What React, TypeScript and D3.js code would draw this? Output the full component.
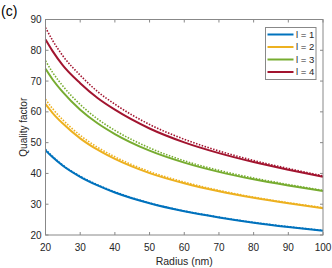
import * as d3 from "d3";

const radius = [20, 22, 25, 30, 35, 40, 50, 60, 70, 80, 90, 100];

// solid curves
const q1 = [47.5, 45.3, 42.5, 38.9, 36.1, 33.8, 30.3, 27.7, 25.7, 24.0, 22.6, 21.4];
const q2 = [62.5, 59.7, 56.2, 51.4, 47.7, 44.7, 40.1, 36.8, 34.2, 32.1, 30.3, 28.7];
const q3 = [74.0, 70.6, 66.4, 60.7, 56.3, 52.8, 47.4, 43.5, 40.5, 38.1, 36.1, 34.3];
const q4 = [83.5, 79.8, 75.1, 69.3, 64.5, 60.7, 54.6, 50.1, 46.6, 43.7, 41.2, 38.9];

// dotted curves
const q1d = [47.7, 45.5, 42.6, 39.0, 36.2, 33.9, 30.3, 27.7, 25.7, 24.0, 22.6, 21.4];
const q2d = [64.0, 61.0, 57.3, 52.3, 48.4, 45.3, 40.5, 37.1, 34.4, 32.2, 30.4, 28.8];
const q3d = [76.5, 72.8, 68.3, 62.3, 57.6, 53.9, 48.2, 44.0, 40.9, 38.4, 36.3, 34.4];
const q4d = [87.3, 83.2, 78.1, 71.8, 66.5, 62.4, 55.8, 51.0, 47.2, 44.1, 41.5, 39.1];

const xTicks = [20, 30, 40, 50, 60, 70, 80, 90, 100];
const yTicks = [20, 30, 40, 50, 60, 70, 80, 90];
const labels = ["l = 1", "l = 2", "l = 3", "l = 4"];
const colors = ["#0072BD", "#EDB120", "#77AC30", "#A2142F"];

const W = 332;
const H = 268;
const m = { left: 45.5, right: 9, top: 19.5, bottom: 33 };
const font = "'Liberation Sans', Arial, sans-serif";

export default function App() {
  const x = d3.scaleLinear().domain([20, 100]).range([m.left, W - m.right]);
  const y = d3.scaleLinear().domain([20, 90]).range([H - m.bottom, m.top]);
  const line = d3
    .line<number>()
    .x((_, i) => x(radius[i]))
    .y((d) => y(d))
    .curve(d3.curveMonotoneX);

  const solid = [q1, q2, q3, q4];
  const dotted = [q1d, q2d, q3d, q4d];
  const x0 = x(20), x1 = x(100), y0 = y(20), y1 = y(90);
  const axisColor = "#888";
  const tl = 3;

  return (
    <svg width={W} height={H} style={{ position: "absolute", left: 0, top: 0 }} fontFamily={font}>
      <rect width={W} height={H} fill="#fff" />
      {solid.map((s, i) => (
        <path key={"s" + i} d={line(s)!} fill="none" stroke={colors[i]} strokeWidth={2} />
      ))}
      {dotted.map((s, i) => (
        <path key={"d" + i} d={line(s)!} fill="none" stroke={colors[i]} strokeWidth={1.6}
          strokeDasharray="1.5 1.5" transform="translate(0,-0.3)" />
      ))}
      <rect x={x0} y={y1} width={x1 - x0} height={y0 - y1} fill="none" stroke={axisColor} strokeWidth={1} />
      {xTicks.map((t) => (
        <g key={"x" + t}>
          <line x1={x(t)} x2={x(t)} y1={y0} y2={y0 - tl} stroke={axisColor} />
          <line x1={x(t)} x2={x(t)} y1={y1} y2={y1 + tl} stroke={axisColor} />
          <text x={x(t)} y={y0 + 16} fontSize={10} fill="#262626" textAnchor="middle">{t}</text>
        </g>
      ))}
      {yTicks.map((t) => (
        <g key={"y" + t}>
          <line x1={x0} x2={x0 + tl} y1={y(t)} y2={y(t)} stroke={axisColor} />
          <line x1={x1} x2={x1 - tl} y1={y(t)} y2={y(t)} stroke={axisColor} />
          <text x={x0 - 4} y={y(t)} dy="0.35em" fontSize={10} fill="#262626" textAnchor="end">{t}</text>
        </g>
      ))}
      <text x={(x0 + x1) / 2} y={265} fontSize={10.5} fill="#262626" textAnchor="middle">Radius (nm)</text>
      <text transform={`translate(27,${(y0 + y1) / 2}) rotate(-90)`} fontSize={10} fill="#262626" textAnchor="middle">Quality factor</text>
      <text x={1} y={16} fontSize={14} fill="#000">(c)</text>
      <g>
        <rect x={265.5} y={27.5} width={50.5} height={52} fill="#fff" stroke={axisColor} />
        {labels.map((l, i) => (
          <g key={l}>
            <line x1={267.5} x2={293.5} y1={34.5 + i * 12.5} y2={34.5 + i * 12.5} stroke={colors[i]} strokeWidth={2} />
            <text x={296} y={34.5 + i * 12.5} dy="0.35em" fontSize={9.5} fill="#262626">{l}</text>
          </g>
        ))}
      </g>
    </svg>
  );
}
